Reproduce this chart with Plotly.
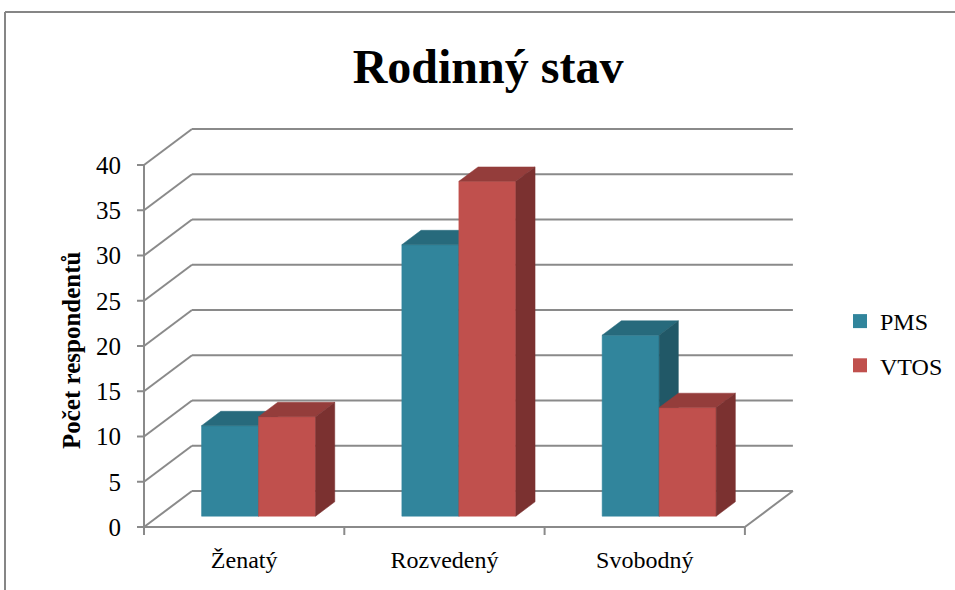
import plotly.graph_objects as go

# ---- data ----
categories = ["Ženatý", "Rozvedený", "Svobodný"]
series_names = ["PMS", "VTOS"]
pms_values = [10, 30, 20]
vtos_values = [11, 37, 12]
y_ticks = [0, 5, 10, 15, 20, 25, 30, 35, 40]

# ---- styles ----
FONT = "Liberation Serif"
GRID = "#8a8a8a"
colors = {
    "PMS": {"front": "#31859C", "top": "#276A7C", "side": "#215867"},
    "VTOS": {"front": "#C0504D", "top": "#943D3B", "side": "#7B3130"},
}

W_PX, H_PX = 955, 590
L, R, T, B = 134, 805, 120, 535          # plot area in pixels
X0PX, Y0PX, XS, YS = 144, 527, 200.3, 9.05  # front floor origin / px per unit
DX, DY = 48 / XS, 36 / YS                 # full depth offset in data units
D0, D1 = 0.3, 0.7                         # bar depth span
BW = 57 / XS                              # bar width

xr = [(L - X0PX) / XS - 0.5, (R - X0PX) / XS - 0.5]
yr = [(Y0PX - B) / YS, (Y0PX - T) / YS]
xmin, xmax = -0.5, len(categories) - 0.5
ymax = y_ticks[-1]


def px2paper_x(px):
    return (px - L) / (R - L)


def px2paper_y(py):
    return (B - py) / (B - T)


fig = go.Figure()


def line(xs, ys, color=GRID, width=2):
    fig.add_trace(go.Scatter(x=xs, y=ys, mode="lines", hoverinfo="skip",
                             line=dict(color=color, width=width), showlegend=False))


# back wall gridlines + left wall diagonals
for v in y_ticks:
    line([xmin + DX, xmax + DX], [v + DY, v + DY])
    line([xmin, xmin + DX], [v, v + DY])
# floor
line([xmin, xmax], [0, 0])
line([xmax, xmax + DX], [0, DY])
# front value axis + ticks
line([xmin, xmin], [0, ymax])
for v in y_ticks:
    line([xmin - 7 / XS, xmin], [v, v])
# category ticks
for i in range(len(categories) + 1):
    line([xmin + i, xmin + i], [0, -8 / YS])


def poly(pts, color):
    xs = [p[0] for p in pts] + [pts[0][0]]
    ys = [p[1] for p in pts] + [pts[0][1]]
    fig.add_trace(go.Scatter(x=xs, y=ys, mode="lines", fill="toself",
                             fillcolor=color, line=dict(color=color, width=0.5),
                             hoverinfo="skip", showlegend=False))


def bar3d(xl, v, c):
    a0x, a0y = xl + D0 * DX, D0 * DY
    a1x, a1y = xl + D1 * DX, D1 * DY
    poly([(a0x, a0y), (a0x + BW, a0y), (a0x + BW, v + a0y), (a0x, v + a0y)], c["front"])
    poly([(a0x, v + a0y), (a0x + BW, v + a0y), (a1x + BW, v + a1y), (a1x, v + a1y)], c["top"])
    poly([(a0x + BW, a0y), (a1x + BW, a1y), (a1x + BW, v + a1y), (a0x + BW, v + a0y)], c["side"])


for i, cat in enumerate(categories):
    bar3d(i - BW, pms_values[i], colors["PMS"])
    bar3d(i, vtos_values[i], colors["VTOS"])

# legend entries
for k, name in enumerate(series_names):
    fig.add_trace(go.Scatter(x=[None], y=[None], mode="markers", name=name,
                             legendgroup=name,
                             marker=dict(symbol="square", size=14,
                                         color=colors[name]["front"])))

# frame
fig.add_shape(type="line", xref="paper", yref="paper",
              x0=px2paper_x(5), x1=px2paper_x(960), y0=px2paper_y(12), y1=px2paper_y(12),
              line=dict(color="#868686", width=2))
fig.add_shape(type="line", xref="paper", yref="paper",
              x0=px2paper_x(5), x1=px2paper_x(5), y0=px2paper_y(12), y1=px2paper_y(595),
              line=dict(color="#868686", width=2))

fig.add_annotation(text="<b>Počet respondentů</b>", textangle=-90,
                   xref="paper", yref="paper", x=px2paper_x(71), y=px2paper_y(350),
                   xanchor="center", yanchor="middle",
                   showarrow=False, font=dict(family=FONT, size=25, color="black"))

fig.update_layout(
    width=W_PX, height=H_PX,
    margin=dict(l=L, r=W_PX - R, t=T, b=H_PX - B, autoexpand=False),
    paper_bgcolor="white", plot_bgcolor="white",
    title=dict(text="<b>Rodinný stav</b>", xref="container", yref="container",
               x=488 / W_PX, y=1 - 66 / H_PX, xanchor="center", yanchor="middle",
               font=dict(family=FONT, size=48, color="black")),
    xaxis=dict(range=xr, showgrid=False, zeroline=False, showline=False,
               tickmode="array", tickvals=list(range(len(categories))),
               ticktext=categories, ticks="", ticklabelstandoff=8,
               tickfont=dict(family=FONT, size=24, color="black")),
    yaxis=dict(range=yr, showgrid=False, zeroline=False, showline=False,
               tickmode="array", tickvals=y_ticks, ticks="", ticklabelstandoff=12,
               tickfont=dict(family=FONT, size=25, color="black")),
    legend=dict(x=px2paper_x(840), y=px2paper_y(299), xanchor="left", yanchor="top",
                traceorder="grouped", tracegroupgap=10, itemwidth=30,
                font=dict(family=FONT, size=24, color="black"),
                bgcolor="rgba(0,0,0,0)"),
    showlegend=True,
)

fig.write_html("out.html", config={"displayModeBar": False},
               post_script="document.body.style.margin='0px';")
